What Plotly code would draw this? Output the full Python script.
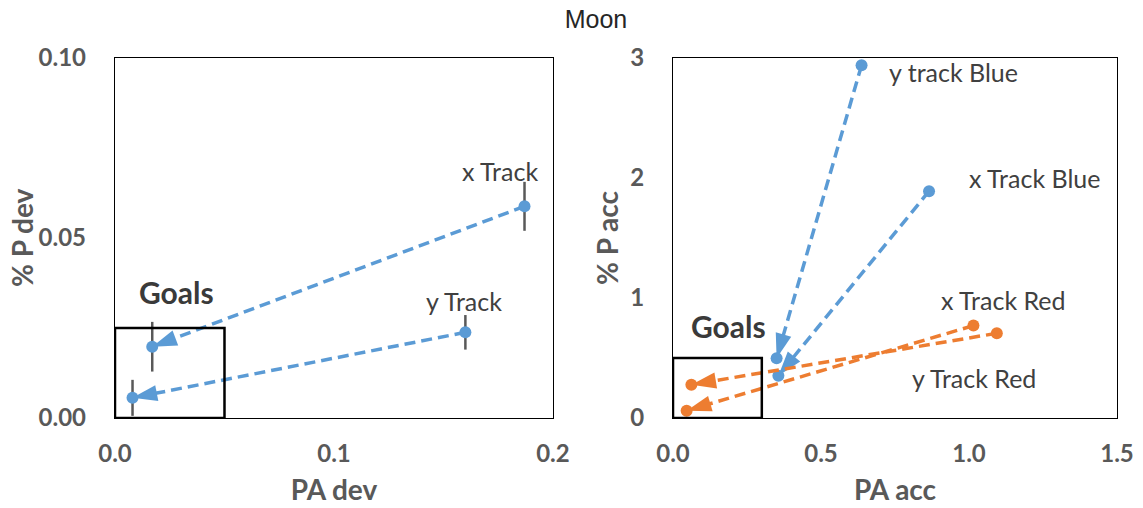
import plotly.graph_objects as go

# ---------------- data ----------------
# Left panel: PA dev vs % P dev
left_names = ["x Track", "y Track"]
left_start_x = [0.187, 0.160]
left_start_y = [0.0588, 0.0238]
left_start_err = [0.0068, 0.0048]
left_end_x = [0.017, 0.008]
left_end_y = [0.0198, 0.0056]
left_end_err = [0.0069, 0.0050]
left_goal = [0.05, 0.025]          # Goals box upper-right corner (x, y)

# Right panel: PA acc vs % P acc
right_names = ["y track Blue", "x Track Blue", "x Track Red", "y Track Red"]
right_start_x = [0.637, 0.865, 1.015, 1.094]
right_start_y = [2.94, 1.89, 0.77, 0.706]
right_end_x = [0.350, 0.356, 0.046, 0.062]
right_end_y = [0.497, 0.353, 0.061, 0.278]
right_colors = ["#5B9BD5", "#5B9BD5", "#ED7D31", "#ED7D31"]
right_goal = [0.3, 0.5]

# label positions
left_lab_x = [0.1758, 0.1594]
left_lab_y = [0.0687, 0.0324]
left_goal_lab = [0.0279, 0.0349]
right_lab_x = [0.723, 0.993, 0.899, 0.800]
right_lab_y = [2.88, 2.00, 0.985, 0.334]
right_goal_lab = [0.189, 0.768]

left_xticks = [0.0, 0.1, 0.2]
left_yticks = [0.00, 0.05, 0.10]
right_xticks = [0.0, 0.5, 1.0, 1.5]
right_yticks = [0, 1, 2, 3]

BLUE = "#5B9BD5"
FONT = "Lato"
TICK_COL = "#595959"
TXT_COL = "#404040"
DASH = "11px,6px"

fig = go.Figure()

def add_arrow(xs, ys, color, xa, ya, err=None):
    # dashed line with arrow head at end
    fig.add_trace(go.Scatter(
        x=xs, y=ys, xaxis=xa, yaxis=ya, mode="lines+markers",
        line=dict(color=color, width=3.5, dash=DASH),
        marker=dict(symbol=["circle", "arrow"], size=[12, 26], color=color, opacity=1,
                    angleref="previous", line=dict(width=0)),
        showlegend=False, hoverinfo="skip"))
    fig.add_trace(go.Scatter(
        x=xs, y=ys, xaxis=xa, yaxis=ya, mode="markers",
        marker=dict(symbol="circle", size=12, color=color, opacity=1, line=dict(width=0)),
        error_y=(dict(type="data", array=err, color="#595959", thickness=2.5, width=0)
                 if err is not None else None),
        showlegend=False, hoverinfo="skip"))

for i in range(len(left_names)):
    add_arrow([left_start_x[i], left_end_x[i]], [left_start_y[i], left_end_y[i]],
              BLUE, "x", "y", err=[left_start_err[i], left_end_err[i]])

for i in range(len(right_names)):
    add_arrow([right_start_x[i], right_end_x[i]], [right_start_y[i], right_end_y[i]],
              right_colors[i], "x2", "y2")

# Goals boxes
fig.add_shape(type="rect", xref="x", yref="y", x0=0, y0=0, x1=left_goal[0], y1=left_goal[1],
              line=dict(color="black", width=2.5))
fig.add_shape(type="rect", xref="x2", yref="y2", x0=0, y0=0, x1=right_goal[0], y1=right_goal[1],
              line=dict(color="black", width=2.5))

# labels
LAB = 25
for i, name in enumerate(left_names):
    fig.add_annotation(x=left_lab_x[i], y=left_lab_y[i], xref="x", yref="y", text=name,
                       showarrow=False, font=dict(family=FONT, size=LAB, color=TXT_COL))
fig.add_annotation(x=left_goal_lab[0], y=left_goal_lab[1], xref="x", yref="y", text="<b>Goals</b>",
                   showarrow=False, font=dict(family=FONT, size=30, color="#3A3A3A"))
for i, name in enumerate(right_names):
    fig.add_annotation(x=right_lab_x[i], y=right_lab_y[i], xref="x2", yref="y2", text=name,
                       xanchor="left", showarrow=False, font=dict(family=FONT, size=LAB, color=TXT_COL))
fig.add_annotation(x=right_goal_lab[0], y=right_goal_lab[1], xref="x2", yref="y2", text="<b>Goals</b>",
                   showarrow=False, font=dict(family=FONT, size=30, color="#3A3A3A"))

# y-axis titles
YTF = dict(family=FONT, size=28, color=TICK_COL)
fig.add_annotation(x=-0.2123, y=0.5, xref="x domain", yref="y domain", text="<b>% P dev</b>",
                   textangle=-90, showarrow=False, xanchor="center", yanchor="middle", font=YTF)
fig.add_annotation(x=-0.1486, y=0.5, xref="x2 domain", yref="y2 domain", text="<b>% P acc</b>",
                   textangle=-90, showarrow=False, xanchor="center", yanchor="middle", font=YTF)

TICKF = dict(family=FONT, size=24, color=TICK_COL, weight="bold")
axis_common = dict(showline=True, linecolor="black", linewidth=1.3, mirror=True,
                   showgrid=False, zeroline=False, ticks="", automargin=False,
                   tickfont=TICKF,
                   title_font=dict(family=FONT, size=28, color=TICK_COL))

fig.update_layout(
    width=1143, height=508,
    margin=dict(l=115, r=26, t=58, b=90),
    paper_bgcolor="white", plot_bgcolor="white",
    title=dict(text="Moon", x=596/1143, xanchor="center", y=1-19/508, yanchor="middle",
               xref="container", yref="container", automargin=False,
               font=dict(family="Liberation Sans", size=25, color="#262626")),
    xaxis=dict(domain=[0, 0.4371], range=[0, 0.2], tickvals=left_xticks, tickformat=".1f",
               ticklabelstandoff=14, anchor="y",
               title=dict(text="<b>PA dev</b>", standoff=14), **axis_common),
    yaxis=dict(domain=[0, 1], range=[0, 0.1], tickvals=left_yticks, tickformat=".2f",
               ticklabelstandoff=23, anchor="x", **axis_common),
    xaxis2=dict(domain=[0.5569, 1], range=[0, 1.5], tickvals=right_xticks, tickformat=".1f",
                ticklabelstandoff=14, anchor="y2",
                title=dict(text="<b>PA acc</b>", standoff=14), **axis_common),
    yaxis2=dict(domain=[0, 1], range=[0, 3], tickvals=right_yticks, tickformat="d",
                ticklabelstandoff=23, anchor="x2", **axis_common),
)

# remove the browser's default page margin so the figure fills the window exactly
fig.write_html("out.html", config={"displayModeBar": False},
               post_script="document.body.style.margin='0';document.body.style.overflow='hidden';")
